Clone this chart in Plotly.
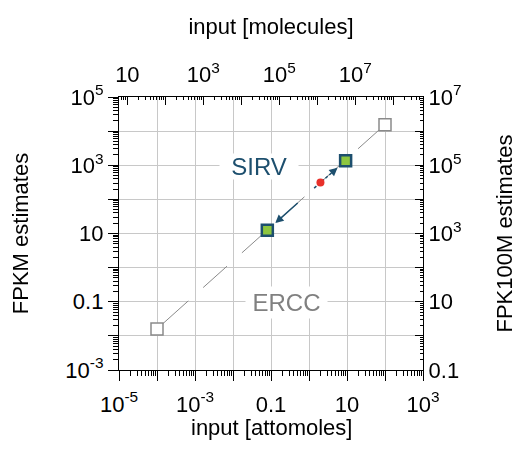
import numpy as np
import plotly.graph_objects as go

# ---- data ----
ercc_x = [1e-4, 100]          # input [attomoles]
ercc_y = [0.016, 1.55e4]      # FPKM estimates
sirv_x = [0.08, 9.2]
sirv_y = [12.5, 1350]
mix_x = [2.0]
mix_y = [310]

MOLECULES_PER_ATTOMOLE = 602214.076
FPK100M_PER_FPKM = 100

# labelled ticks
x_tick_vals = [1e-5, 1e-3, 1e-1, 1e1, 1e3]
x_tick_text = ["10<sup>-5</sup>", "10<sup>-3</sup>", "0.1", "10", "10<sup>3</sup>"]
y_tick_vals = [1e-3, 1e-1, 1e1, 1e3, 1e5]
y_tick_text = ["10<sup>-3</sup>", "0.1", "10", "10<sup>3</sup>", "10<sup>5</sup>"]
x2_tick_vals = [1e1, 1e3, 1e5, 1e7]
x2_tick_text = ["10", "10<sup>3</sup>", "10<sup>5</sup>", "10<sup>7</sup>"]
y2_tick_vals = [1e-1, 1e1, 1e3, 1e5, 1e7]
y2_tick_text = ["0.1", "10", "10<sup>3</sup>", "10<sup>5</sup>", "10<sup>7</sup>"]

x_range = [-5, 3]
y_range = [-3, 5]
x2_range = [x_range[0] + np.log10(MOLECULES_PER_ATTOMOLE), x_range[1] + np.log10(MOLECULES_PER_ATTOMOLE)]
y2_range = [y_range[0] + np.log10(FPK100M_PER_FPKM), y_range[1] + np.log10(FPK100M_PER_FPKM)]


def decades(lo, hi):
    return [10.0 ** e for e in range(int(np.floor(lo)), int(np.ceil(hi)) + 1)]


def minor_vals(lo, hi):
    out = []
    for e in range(int(np.floor(lo)) - 1, int(np.ceil(hi)) + 1):
        for m in range(2, 10):
            v = m * 10.0 ** e
            if 10 ** lo <= v <= 10 ** hi:
                out.append(v)
    return out


FONT = "Liberation Sans, Arial, sans-serif"
TEAL = "#1d4f6e"
GRID = "#c8c8c8"

fig = go.Figure()

# ERCC line with open squares
fig.add_trace(go.Scatter(
    x=ercc_x, y=ercc_y, mode="lines+markers",
    line=dict(color="#8a8a8a", width=1,
              dash="42px,20px,32px,20px,32px,20px,32px,20px,32px,20px,32px,20px,60px"),
    marker=dict(symbol="square", size=12, color="white",
                line=dict(color="#8a8a8a", width=1.5)),
    showlegend=False, hoverinfo="skip"))

# arrows derived from data (log-space interpolation)
lr = np.log10([mix_x[0], mix_y[0]])
ls1 = np.log10([sirv_x[0], sirv_y[0]])
ls2 = np.log10([sirv_x[1], sirv_y[1]])
up_tail = lr - 0.25 * (ls2 - lr)
up_head = lr + 0.68 * (ls2 - lr)
up_mid = lr + 0.50 * (ls2 - lr)
lo_tail = lr + 0.40 * (ls1 - lr)
lo_head = lr + 0.85 * (ls1 - lr)

# dashed shaft of upper arrow
fig.add_trace(go.Scatter(
    x=[10 ** up_tail[0], 10 ** up_mid[0]], y=[10 ** up_tail[1], 10 ** up_mid[1]],
    mode="lines", line=dict(color=TEAL, width=1.5, dash="3px,2px"),
    showlegend=False, hoverinfo="skip"))

# mix point (red)
fig.add_trace(go.Scatter(
    x=mix_x, y=mix_y, mode="markers",
    marker=dict(symbol="circle", size=8, color="#e8302a"),
    showlegend=False, hoverinfo="skip"))

# SIRV squares
fig.add_trace(go.Scatter(
    x=sirv_x, y=sirv_y, mode="markers",
    marker=dict(symbol="square", size=11, color="#8dc63f",
                line=dict(color=TEAL, width=2.5)),
    showlegend=False, hoverinfo="skip"))

# invisible traces anchoring the extra axes
fig.add_trace(go.Scatter(
    x=[v * MOLECULES_PER_ATTOMOLE for v in ercc_x],
    y=[v * FPK100M_PER_FPKM for v in ercc_y],
    xaxis="x2", yaxis="y2", mode="markers", opacity=0,
    showlegend=False, hoverinfo="skip"))
fig.add_trace(go.Scatter(
    x=ercc_x, y=ercc_y, xaxis="x3", yaxis="y3", mode="markers", opacity=0,
    showlegend=False, hoverinfo="skip"))
fig.add_trace(go.Scatter(
    x=[v * MOLECULES_PER_ATTOMOLE for v in ercc_x],
    y=[v * FPK100M_PER_FPKM for v in ercc_y],
    xaxis="x4", yaxis="y4", mode="markers", opacity=0,
    showlegend=False, hoverinfo="skip"))

tickfont = dict(family=FONT, size=22, color="black")
titlefont = dict(family=FONT, size=22, color="black")

annotations = [
    dict(x=up_head[0], y=up_head[1], ax=up_mid[0], ay=up_mid[1],
         xref="x", yref="y", axref="x", ayref="y", text="",
         showarrow=True, arrowhead=2, arrowsize=1.1, arrowwidth=1.5,
         arrowcolor=TEAL, standoff=0, startstandoff=0),
    dict(x=lo_head[0], y=lo_head[1], ax=lo_tail[0], ay=lo_tail[1],
         xref="x", yref="y", axref="x", ayref="y", text="",
         showarrow=True, arrowhead=2, arrowsize=1.1, arrowwidth=1.5,
         arrowcolor=TEAL, standoff=0, startstandoff=0),
    dict(x=-1.311, y=2.953, xref="x", yref="y", text="SIRV", showarrow=False,
         font=dict(family=FONT, size=24, color=TEAL),
         bgcolor="white", width=78, height=25, borderpad=0),
    dict(x=-0.591, y=-1.023, xref="x", yref="y", text="ERCC", showarrow=False,
         font=dict(family=FONT, size=24, color="#808080"),
         bgcolor="white", width=81, height=31, borderpad=0),
    # bottom axis title
    dict(x=0.5, y=-0.209, xref="paper", yref="paper", text="input [attomoles]",
         showarrow=False, xanchor="center", yanchor="middle", font=titlefont),
]

base = dict(type="log", tickcolor="black", tickwidth=1.2, tickfont=tickfont,
            zeroline=False, tickmode="array")


def minor(ticks, vals, length):
    return dict(ticks=ticks, ticklen=length, tickmode="array", tickvals=vals,
                tickcolor="black", tickwidth=1, showgrid=False)


fig.update_layout(
    width=521, height=466,
    margin=dict(l=105, r=106, t=89, b=104),
    paper_bgcolor="white", plot_bgcolor="white",
    font=dict(family=FONT, color="black"),
    showlegend=False,
    annotations=annotations,
    # bottom: attomoles (labels every 2 decades)
    xaxis=dict(**base, range=x_range, tickvals=x_tick_vals, ticktext=x_tick_text,
               showline=True, linecolor="black", linewidth=1.3,
               ticks="outside", ticklen=10, showgrid=False, ticklabelstandoff=4,
               minor=minor("outside", minor_vals(*x_range), 5)),
    # bottom: every decade ticks + grid
    xaxis3=dict(**base, overlaying="x", side="bottom", anchor="y", range=x_range,
                tickvals=decades(*x_range), showticklabels=False,
                ticks="outside", ticklen=10, showline=False,
                showgrid=True, gridcolor=GRID, gridwidth=1.3),
    # left: FPKM
    yaxis=dict(**base, range=y_range, tickvals=y_tick_vals, ticktext=y_tick_text,
               showline=True, linecolor="black", linewidth=1.3,
               ticks="outside", ticklen=10, showgrid=False,
               minor=minor("outside", minor_vals(*y_range), 5),
               title=dict(text="FPKM estimates", font=titlefont, standoff=30)),
    yaxis3=dict(**base, overlaying="y", side="left", anchor="x", range=y_range,
                tickvals=decades(*y_range), showticklabels=False,
                ticks="outside", ticklen=10, showline=False,
                showgrid=True, gridcolor=GRID, gridwidth=1.3),
    # top: molecules
    xaxis2=dict(**base, overlaying="x", side="top", anchor="y", range=x2_range,
                tickvals=x2_tick_vals, ticktext=x2_tick_text,
                showline=True, linecolor="black", linewidth=1.3,
                ticks="inside", ticklen=8, showgrid=False, ticklabelstandoff=5,
                minor=minor("inside", minor_vals(*x2_range), 3),
                title=dict(text="input [molecules]", font=titlefont, standoff=18)),
    xaxis4=dict(**base, overlaying="x", side="top", anchor="y", range=x2_range,
                tickvals=decades(*x2_range), showticklabels=False,
                ticks="inside", ticklen=8, showline=False, showgrid=False),
    # right: FPK100M
    yaxis2=dict(**base, overlaying="y", side="right", anchor="x", range=y2_range,
                tickvals=y2_tick_vals, ticktext=y2_tick_text,
                showline=True, linecolor="black", linewidth=1.3,
                ticks="inside", ticklen=8, showgrid=False,
                minor=minor("inside", minor_vals(*y2_range), 3),
                title=dict(text="FPK100M estimates", font=titlefont, standoff=36)),
    yaxis4=dict(**base, overlaying="y", side="right", anchor="x", range=y2_range,
                tickvals=decades(*y2_range), showticklabels=False,
                ticks="inside", ticklen=8, showline=False, showgrid=False),
)

fig.write_html("out.html")
